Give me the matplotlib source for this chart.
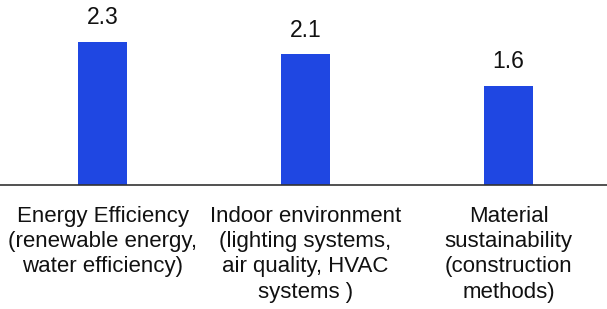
import matplotlib
matplotlib.use("Agg")
import matplotlib.pyplot as plt

categories = ["Energy Efficiency\n(renewable energy,\nwater efficiency)",
              "Indoor environment\n(lighting systems,\nair quality, HVAC\nsystems )",
              "Material\nsustainability\n(construction\nmethods)"]
values = [2.3, 2.1, 1.6]
value_labels = ["2.3", "2.1", "1.6"]

plt.rcParams['font.family'] = ['Liberation Sans', 'DejaVu Sans']

fig = plt.figure(figsize=(6.07, 3.09), dpi=100)
ax = fig.add_axes([0, 1 - 185/309, 1, 185/309])
x = list(range(len(values)))
ax.bar(x, values, width=0.24, color="#1f47e2")
for xi, v, lab in zip(x, values, value_labels):
    ax.annotate(lab, (xi, v), xytext=(0, 9), textcoords="offset points",
                ha="center", va="bottom", fontsize=16.5, color="#111111")
ax.set_xlim(-0.505, 2.485)
ax.set_ylim(0, 2.975)
ax.set_xticks(x)
ax.set_xticklabels(categories, fontsize=16, color="#111111", linespacing=1.27,
                   multialignment="center")
ax.tick_params(axis="x", length=0, pad=15)
ax.set_yticks([])
for s in ["top", "right", "left"]:
    ax.spines[s].set_visible(False)
ax.spines["bottom"].set_color("#333333")
ax.spines["bottom"].set_linewidth(1.2)
fig.savefig("out.png", dpi=100)
